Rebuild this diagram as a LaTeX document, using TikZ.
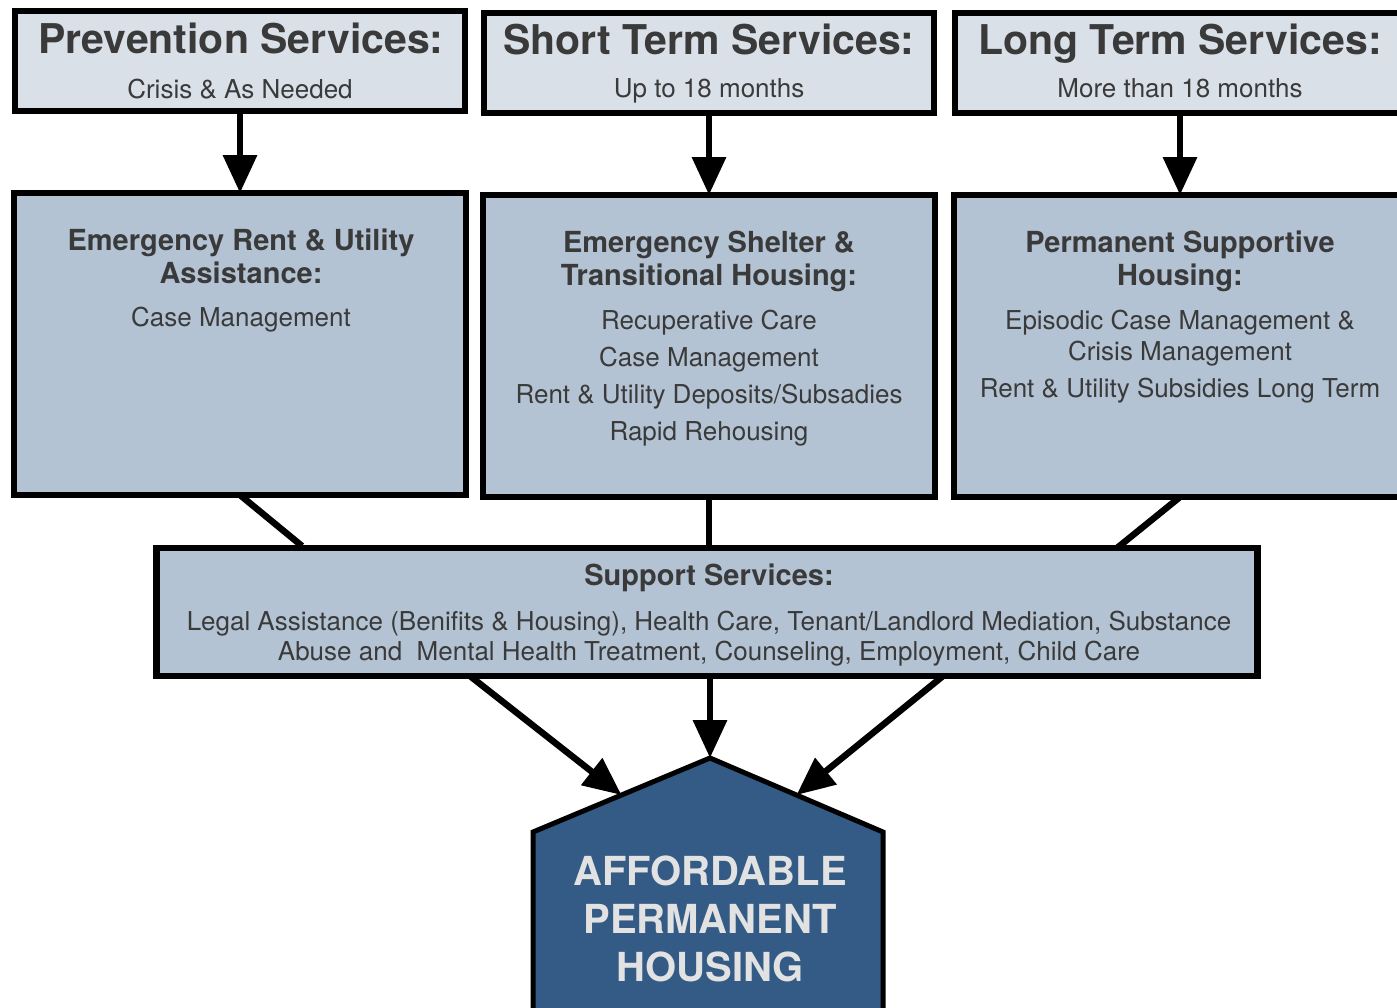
\documentclass[tikz,border=0pt]{standalone}
\usepackage{fontspec}
\setmainfont{TeX Gyre Heros}
\usetikzlibrary{arrows.meta,calc}

\definecolor{headfill}{HTML}{D9E0E8}
\definecolor{stagefill}{HTML}{B3C3D3}
\definecolor{housefill}{HTML}{335B85}
\definecolor{ink}{HTML}{3A3A3A}
\definecolor{houseink}{HTML}{E2E2E2}

\begin{document}
\begin{tikzpicture}[
		x=1pt, y=-1pt,
		every node/.style={inner sep=0pt, outer sep=0pt},
		headbox/.style={draw, line width=6.5pt, fill=headfill, minimum width=450pt, minimum height=100pt},
		stagebox/.style={draw, line width=6.5pt, fill=stagefill, minimum width=452pt, minimum height=302pt},
		suppbox/.style={draw, line width=6.5pt, fill=stagefill, minimum width=1101pt, minimum height=128pt},
		headtitle/.style={anchor=north, text=ink, font=\fontsize{41}{45}\selectfont\bfseries},
		headsub/.style={anchor=north, text=ink, font=\fontsize{26}{30}\selectfont},
		stagetitle/.style={anchor=north, align=center, text=ink, font=\fontsize{29}{33}\selectfont\bfseries},
		stagetext/.style={anchor=north, align=center, text=ink, font=\fontsize{26}{37}\selectfont},
		arr/.style={line width=6.5pt, -{Triangle[width=33pt,length=38pt]}},
		link/.style={line width=6.5pt}
	]
  \useasboundingbox (0,0) rectangle (1397,1007);
  \clip (0,0) rectangle (1397,1007);

  % top row
  \node[headbox] (prev) at (240,61) {};
  \node[headbox] (short) at (709,63) {};
  \node[headbox] (long) at (1180,63) {};
  \node[headtitle] (prev_t) at (241,23) {Prevention Services:};
  \node[headsub] (prev_s) at (240,79) {Crisis \& As Needed};
  \node[headtitle] (short_t) at (709,24) {Short Term Services:};
  \node[headsub] (short_s) at (709,79) {Up to 18 months};
  \node[headtitle] (long_t) at (1180,24) {Long Term Services:};
  \node[headsub] (long_s) at (1180,79) {More than 18 months};

  % middle row
  \node[stagebox] (emerg) at (240,344) {};
  \node[stagebox] (shelter) at (709,346) {};
  \node[stagebox] (psh) at (1180,346) {};
  \node[stagetitle] (emerg_t) at (241,229) {Emergency Rent \& Utility\\Assistance:};
  \node[stagetext] (emerg_x) at (241,307) {Case Management};
  \node[stagetitle] (shelter_t) at (709,231) {Emergency Shelter \&\\Transitional Housing:};
  \node[stagetext] (shelter_x) at (709,310) {Recuperative Care\\Case Management\\Rent \& Utility Deposits/Subsadies\\Rapid Rehousing};
  \node[stagetitle] (psh_t) at (1180,231) {Permanent Supportive\\Housing:};
  \node[stagetext, font=\fontsize{26}{31}\selectfont] (psh_x) at (1180,310) {Episodic Case Management \&\\Crisis Management\\[6pt]Rent \& Utility Subsidies Long Term};

  \draw[arr] (prev) -- (emerg);
  \draw[arr] (short) -- (shelter);
  \draw[arr] (long) -- (psh);

  % support services
  \draw[link] (emerg.south) -- ($(emerg.south)+(62,51)$) coordinate (emerg_end);
  \draw[link] (psh.south) -- ($(psh.south)+(-63,51)$) coordinate (psh_end);
  \draw[link] (shelter.south) -- ($(shelter.south)+(0,51)$) coordinate (shelter_end);
  \node[suppbox] (support) at (707,612) {};
  \node[stagetitle] (supp_t) at (709,564) {Support Services:};
  \node[stagetext, font=\fontsize{26}{30}\selectfont] (supp_x) at (709,611) {Legal Assistance (Benifits \& Housing), Health Care, Tenant/Landlord Mediation, Substance\\Abuse and\ \ Mental Health Treatment, Counseling, Employment, Child Care};

  % house
  \coordinate (peak) at (710,758);
  \coordinate (eave_l) at (533,832);
  \coordinate (eave_r) at (883,832);
  \coordinate (base_l) at (533,1020);
  \coordinate (base_r) at (883,1020);
  \draw[line width=5pt, fill=housefill] (base_l) -- (eave_l) -- (peak) -- (eave_r) -- (base_r) -- cycle;
  \node[anchor=north, align=center, text=houseink, font=\fontsize{40}{48}\selectfont\bfseries] (house) at (710,856) {AFFORDABLE\\PERMANENT\\HOUSING};

  \draw[arr] ($(support.south)+(-237,0)$) -- ($(peak)!0.5!(eave_l)$);
  \draw[arr] (support.south -| peak) -- (peak);
  \draw[arr] ($(support.south)+(236,0)$) -- ($(peak)!0.5!(eave_r)$);
\end{tikzpicture}
\end{document}
